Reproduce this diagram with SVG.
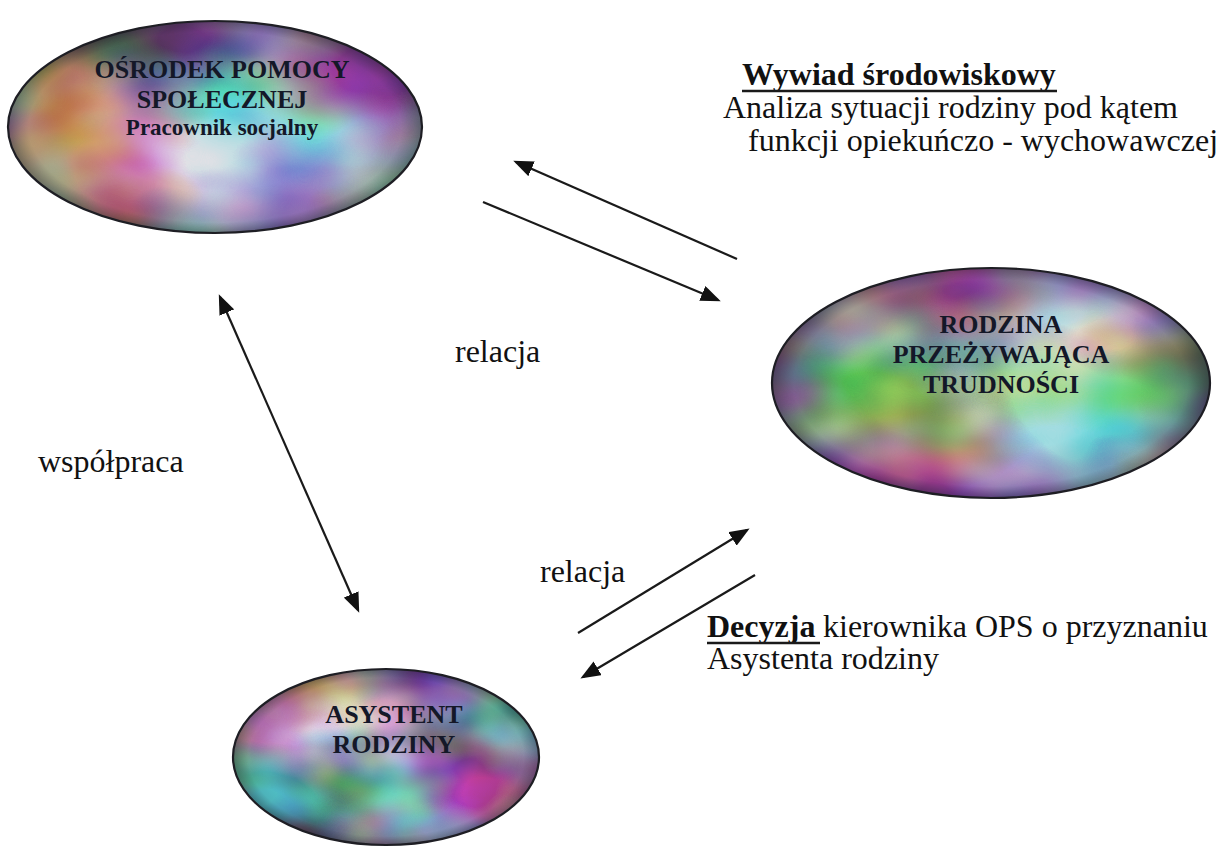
<svg xmlns="http://www.w3.org/2000/svg" width="1232" height="847" viewBox="0 0 1232 847">
<style>
  .node-title { font-family: "Liberation Serif", "Times New Roman", serif; font-weight: bold; font-size: 26px; fill: #141828; text-anchor: middle; }
  .node-sub { font-family: "Liberation Serif", "Times New Roman", serif; font-weight: bold; font-size: 23px; fill: #141828; text-anchor: middle; }
  .label { font-family: "Liberation Serif", "Times New Roman", serif; font-size: 32px; fill: #111; }
  .label-b { font-family: "Liberation Serif", "Times New Roman", serif; font-size: 32px; font-weight: bold; fill: #111; }
  .conn { stroke: #1a1a1a; stroke-width: 2.2; fill: none; }
  .uline { stroke: #1a1a1a; stroke-width: 2.5; }
  .outline { fill: none; stroke: #1e1e24; stroke-width: 2.2; }
  .vign { fill: url(#vignette); }
</style>
<defs>
  <marker id="ah" markerUnits="userSpaceOnUse" markerWidth="20" markerHeight="16" viewBox="0 0 20 16" refX="17" refY="8" orient="auto-start-reverse">
    <path d="M0,0 L20,8 L0,16 z" fill="#111"/>
  </marker>
  <radialGradient id="vignette" cx="0.5" cy="0.5" r="0.5">
    <stop offset="0.6" stop-color="#202030" stop-opacity="0"/>
    <stop offset="0.9" stop-color="#302838" stop-opacity="0.2"/>
    <stop offset="1" stop-color="#1a1a26" stop-opacity="0.5"/>
  </radialGradient>
  <filter id="iri1" x="0" y="0" width="1" height="1" color-interpolation-filters="sRGB">
    <feTurbulence type="fractalNoise" baseFrequency="0.006 0.009" numOctaves="3" seed="3" result="n"/>
    <feComponentTransfer in="n" result="c">
      <feFuncR type="linear" slope="2.2" intercept="-0.5"/>
      <feFuncG type="linear" slope="2.2" intercept="-0.5"/>
      <feFuncB type="linear" slope="2.2" intercept="-0.42"/>
      <feFuncA type="table" tableValues="1 1"/>
    </feComponentTransfer>
    <feColorMatrix type="saturate" values="0.75"/>
    <feComponentTransfer result="d">
      <feFuncR type="linear" slope="0.68" intercept="0.2"/>
      <feFuncG type="linear" slope="0.68" intercept="0.2"/>
      <feFuncB type="linear" slope="0.68" intercept="0.22"/>
    </feComponentTransfer>
    <feComposite in="d" in2="SourceGraphic" operator="in"/>
  </filter>
  <filter id="iri2" x="0" y="0" width="1" height="1" color-interpolation-filters="sRGB">
    <feTurbulence type="fractalNoise" baseFrequency="0.006 0.009" numOctaves="3" seed="11" result="n"/>
    <feComponentTransfer in="n" result="c">
      <feFuncR type="linear" slope="2.2" intercept="-0.5"/>
      <feFuncG type="linear" slope="2.2" intercept="-0.5"/>
      <feFuncB type="linear" slope="2.2" intercept="-0.42"/>
      <feFuncA type="table" tableValues="1 1"/>
    </feComponentTransfer>
    <feColorMatrix type="saturate" values="0.75"/>
    <feComponentTransfer result="d">
      <feFuncR type="linear" slope="0.68" intercept="0.2"/>
      <feFuncG type="linear" slope="0.68" intercept="0.2"/>
      <feFuncB type="linear" slope="0.68" intercept="0.22"/>
    </feComponentTransfer>
    <feComposite in="d" in2="SourceGraphic" operator="in"/>
  </filter>
  <filter id="iri3" x="0" y="0" width="1" height="1" color-interpolation-filters="sRGB">
    <feTurbulence type="fractalNoise" baseFrequency="0.008 0.012" numOctaves="3" seed="27" result="n"/>
    <feComponentTransfer in="n" result="c">
      <feFuncR type="linear" slope="2.2" intercept="-0.5"/>
      <feFuncG type="linear" slope="2.2" intercept="-0.5"/>
      <feFuncB type="linear" slope="2.2" intercept="-0.42"/>
      <feFuncA type="table" tableValues="1 1"/>
    </feComponentTransfer>
    <feColorMatrix type="saturate" values="0.75"/>
    <feComponentTransfer result="d">
      <feFuncR type="linear" slope="0.68" intercept="0.2"/>
      <feFuncG type="linear" slope="0.68" intercept="0.2"/>
      <feFuncB type="linear" slope="0.68" intercept="0.22"/>
    </feComponentTransfer>
    <feComposite in="d" in2="SourceGraphic" operator="in"/>
  </filter>
</defs>
<rect width="1232" height="847" fill="#ffffff"/>

<g id="connectors">
  <line class="conn" x1="737" y1="259" x2="516" y2="162" marker-end="url(#ah)"/>
  <line class="conn" x1="483" y1="202" x2="718" y2="300" marker-end="url(#ah)"/>
  <line class="conn" x1="220" y1="297" x2="358" y2="610" marker-start="url(#ah)" marker-end="url(#ah)"/>
  <line class="conn" x1="578" y1="633" x2="747" y2="530" marker-end="url(#ah)"/>
  <line class="conn" x1="755" y1="575" x2="583" y2="677" marker-end="url(#ah)"/>
</g>

<g id="node-ops">
  <ellipse cx="215" cy="127" rx="207" ry="106" fill="#000" filter="url(#iri1)"/>
  <ellipse class="vign" cx="215" cy="127" rx="207" ry="106"/>
  <ellipse class="outline" cx="215" cy="127" rx="207" ry="106"/>
  <text class="node-title" x="222" y="78">OŚRODEK POMOCY</text>
  <text class="node-title" x="222" y="108">SPOŁECZNEJ</text>
  <text class="node-sub" x="222" y="135">Pracownik socjalny</text>
</g>

<g id="node-rodzina">
  <ellipse cx="991" cy="383" rx="219" ry="115" fill="#000" filter="url(#iri2)"/>
  <ellipse class="vign" cx="991" cy="383" rx="219" ry="115"/>
  <ellipse class="outline" cx="991" cy="383" rx="219" ry="115"/>
  <text class="node-title" x="1001" y="333">RODZINA</text>
  <text class="node-title" x="1001" y="363">PRZEŻYWAJĄCA</text>
  <text class="node-title" x="1001" y="393">TRUDNOŚCI</text>
</g>

<g id="node-asystent">
  <ellipse cx="386" cy="757" rx="153" ry="88" fill="#000" filter="url(#iri3)"/>
  <ellipse class="vign" cx="386" cy="757" rx="153" ry="88"/>
  <ellipse class="outline" cx="386" cy="757" rx="153" ry="88"/>
  <text class="node-title" x="394" y="723">ASYSTENT</text>
  <text class="node-title" x="394" y="753">RODZINY</text>
</g>

<g id="label-wywiad">
  <text class="label-b" x="742" y="85">Wywiad środowiskowy</text>
  <line class="uline" x1="742" y1="91" x2="1057" y2="91"/>
  <text class="label" x="723" y="118">Analiza sytuacji rodziny pod kątem</text>
  <text class="label" x="748" y="151">funkcji opiekuńczo - wychowawczej</text>
</g>

<g id="label-decyzja">
  <text class="label-b" x="707" y="637">Decyzja</text>
  <text class="label" x="823" y="637">kierownika OPS o przyznaniu</text>
  <line class="uline" x1="707" y1="643" x2="820" y2="643"/>
  <text class="label" x="707" y="669">Asystenta rodziny</text>
</g>

<g id="label-relacja-1"><text class="label" x="455" y="362" font-size="33">relacja</text></g>
<g id="label-relacja-2"><text class="label" x="540" y="582" font-size="33">relacja</text></g>
<g id="label-wspolpraca"><text class="label" x="38" y="472" font-size="35">współpraca</text></g>
</svg>
